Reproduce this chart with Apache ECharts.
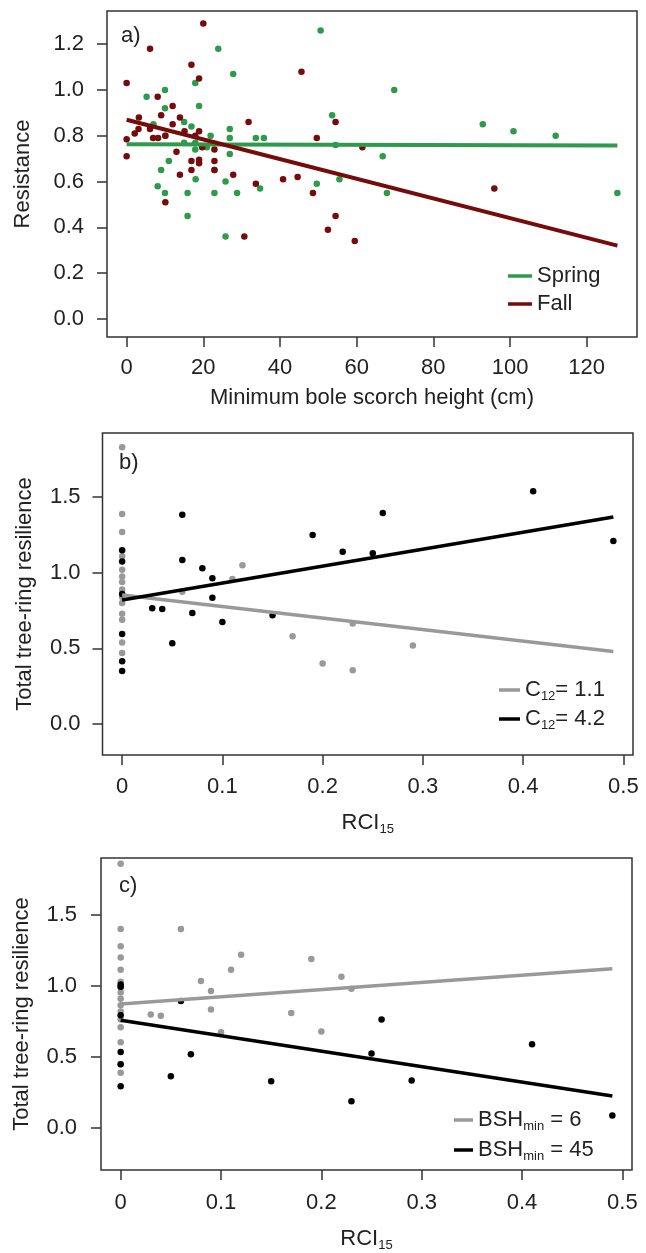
<!DOCTYPE html>
<html>
<head>
<meta charset="utf-8">
<title>Resistance and resilience</title>
<script src="https://cdn.jsdelivr.net/npm/echarts@6/dist/echarts.min.js"></script>
<style>
	html, body { margin: 0; padding: 0; background: #fff; }
	#chart { width: 646px; height: 1253px; }
</style>
</head>
<body>
<div id="chart"></div>
<script>
// ---- a) resistance vs minimum bole scorch height ----
var springX = [50.6, 23.9, 27.8, 10, 17.9, 5.2, 10, 18.9, 53.6, 7, 15, 16.9, 26.9, 10.1, 21.9, 26.9, 33.7, 35.8, 15, 17.9, 20.9, 54.5, 17.9, 26.9, 11, 9, 22.9, 18, 25.8, 8.1, 10, 15.9, 22.9, 28.8, 34.8, 49.6, 55.5, 15.9, 25.8, 69.8, 92.9, 100.9, 111.9, 66.8, 67.9, 128];
var springY = [1.26, 1.18, 1.07, 1.0, 1.03, 0.97, 0.92, 0.93, 0.89, 0.85, 0.86, 0.84, 0.83, 0.8, 0.8, 0.79, 0.79, 0.79, 0.77, 0.77, 0.75, 0.76, 0.74, 0.72, 0.69, 0.65, 0.65, 0.61, 0.6, 0.58, 0.55, 0.55, 0.55, 0.55, 0.57, 0.59, 0.61, 0.45, 0.36, 1.0, 0.85, 0.82, 0.8, 0.71, 0.55, 0.55];
var fallX = [20, 6.1, 16.9, 18.9, 0, 45.6, 8.1, 12, 9, 3.2, 13.9, 12, 31.8, 54.5, 6.1, 3.1, 2.1, 6.9, 8.2, 0, 10.1, 15.1, 18.9, 17.9, 49.6, 19.7, 22.9, 13, 0, 16.9, 18.9, 18.9, 22.9, 22.9, 13.9, 16.9, 27.8, 40.8, 44.6, 33.7, 48.6, 10.1, 54.5, 52.5, 30.7, 59.5, 61.5, 95.9];
var fallY = [1.29, 1.18, 1.11, 1.05, 1.03, 1.08, 0.97, 0.93, 0.89, 0.88, 0.88, 0.85, 0.86, 0.86, 0.83, 0.83, 0.81, 0.79, 0.79, 0.785, 0.8, 0.82, 0.82, 0.8, 0.79, 0.75, 0.74, 0.73, 0.71, 0.69, 0.695, 0.68, 0.69, 0.65, 0.63, 0.65, 0.63, 0.61, 0.62, 0.59, 0.55, 0.51, 0.45, 0.39, 0.36, 0.34, 0.75, 0.57];
var fitXa = [0, 128];
var springFit = [0.763, 0.757];
var fallFit = [0.87, 0.32];
var ticksXa = [0, 20, 40, 60, 80, 100, 120];
var ticksYa = [0, 0.2, 0.4, 0.6, 0.8, 1.0, 1.2];

// ---- b) resilience vs RCI15 by C12 ----
var c11X = [0, 0, 0, 0, 0, 0, 0, 0, 0, 0, 0, 0, 0, 0, 0.06, 0.11, 0.12, 0.17, 0.2, 0.23, 0.23, 0.29];
var c11Y = [1.83, 1.39, 1.27, 1.11, 1.02, 0.975, 0.94, 0.89, 0.84, 0.8, 0.73, 0.69, 0.54, 0.47, 0.875, 0.96, 1.05, 0.58, 0.4, 0.665, 0.355, 0.52];
var c42X = [0, 0, 0, 0, 0, 0, 0.06, 0.06, 0.08, 0.09, 0.09, 0.03, 0.04, 0.07, 0.1, 0.15, 0.05, 0.19, 0.22, 0.25, 0.26, 0.41, 0.49];
var c42Y = [1.15, 1.075, 0.86, 0.595, 0.415, 0.35, 1.385, 1.085, 1.03, 0.965, 0.835, 0.765, 0.76, 0.735, 0.675, 0.72, 0.535, 1.25, 1.14, 1.13, 1.395, 1.54, 1.21];
var fitXbc = [0, 0.49];
var c11Fit = [0.853, 0.48];
var c42Fit = [0.82, 1.37];

// ---- c) resilience vs RCI15 by BSHmin ----
var bsh6X = [0, 0, 0, 0, 0, 0, 0, 0, 0, 0, 0, 0, 0, 0, 0, 0, 0.06, 0.12, 0.11, 0.08, 0.09, 0.09, 0.03, 0.04, 0.1, 0.17, 0.19, 0.22, 0.23, 0.2];
var bsh6Y = [1.86, 1.4, 1.28, 1.2, 1.115, 1.03, 0.99, 0.955, 0.91, 0.865, 0.82, 0.765, 0.71, 0.605, 0.45, 0.39, 1.4, 1.22, 1.115, 1.035, 0.965, 0.835, 0.8, 0.79, 0.675, 0.81, 1.19, 1.065, 0.98, 0.68];
var bsh45X = [0, 0, 0, 0, 0, 0, 0.06, 0.07, 0.05, 0.15, 0.26, 0.25, 0.29, 0.23, 0.41, 0.49];
var bsh45Y = [1.01, 0.995, 0.795, 0.535, 0.45, 0.295, 0.895, 0.52, 0.365, 0.33, 0.765, 0.525, 0.335, 0.19, 0.59, 0.09];
var bsh6Fit = [0.874, 1.122];
var bsh45Fit = [0.759, 0.226];
var ticksXbc = [0, 0.1, 0.2, 0.3, 0.4, 0.5];
var ticksYbc = [0, 0.5, 1.0, 1.5];

var FONT = 'Liberation Sans, Arial, sans-serif';
var INK = '#222';
var GREEN = '#2f9a4b';
var DARKRED = '#750b0b';
var GRAY = '#999999';
var BLACK = '#000';

function pairs(xs, ys) {
	return xs.map(function(x, i) {
		return [x, ys[i]];
	});
}

var subRich = {
	n: { fontSize: 22, fontFamily: FONT, color: INK, lineHeight: 26 },
	s: { fontSize: 13, fontFamily: FONT, color: INK, lineHeight: 13, verticalAlign: 'bottom' }
};

function xAxisFor(idx, min, max, ticks, name, gap, margin) {
	return {
		type: 'value', gridIndex: idx, min: min, max: max,
		name: name, nameLocation: 'middle', nameGap: gap,
		nameTextStyle: { fontSize: 22, fontFamily: FONT, color: INK, rich: subRich },
		axisLine: { show: false, onZero: false },
		axisTick: { show: true, length: 10, customValues: ticks, lineStyle: { color: '#333', width: 1.5 } },
		axisLabel: {
			customValues: ticks, margin: margin, fontSize: 22, fontFamily: FONT, color: INK,
			formatter: function(v) { return String(Math.round(v * 100) / 100); }
		},
		splitLine: { show: false }
	};
}

function yAxisFor(idx, min, max, ticks, name, gap, margin) {
	return {
		type: 'value', gridIndex: idx, min: min, max: max,
		name: name, nameLocation: 'middle', nameGap: gap,
		nameTextStyle: { fontSize: 22, fontFamily: FONT, color: INK },
		axisLine: { show: false, onZero: false },
		axisTick: { show: true, length: 10, customValues: ticks, lineStyle: { color: '#333', width: 1.5 } },
		axisLabel: {
			customValues: ticks, margin: margin, fontSize: 22, fontFamily: FONT, color: INK,
			formatter: function(v) { return v.toFixed(1); }
		},
		splitLine: { show: false }
	};
}

function points(name, idx, xs, ys, color) {
	return {
		name: name, type: 'scatter', xAxisIndex: idx, yAxisIndex: idx,
		data: pairs(xs, ys), symbol: 'circle', symbolSize: 6.5,
		itemStyle: { color: color, opacity: 1 }, silent: true, z: 2
	};
}

function fitLine(name, idx, xs, ys, color, width) {
	return {
		name: name, type: 'line', xAxisIndex: idx, yAxisIndex: idx,
		data: pairs(xs, ys), showSymbol: false, color: color,
		itemStyle: { color: color },
		lineStyle: { color: color, width: width }, silent: true, z: 3
	};
}

function legendFor(names, left, top, width, gap) {
	return {
		data: names, orient: 'vertical', left: left, top: top, padding: 0,
		icon: 'rect', itemWidth: width, itemHeight: 3.5, itemGap: gap,
		selectedMode: false,
		textStyle: { fontSize: 22, fontFamily: FONT, color: INK, lineHeight: 26, rich: subRich },
		formatter: function(name) { return legendText[name] || name; }
	};
}

var legendText = {
	'C12 = 1.1': '{n|C}{s|12}{n|= 1.1}',
	'C12 = 4.2': '{n|C}{s|12}{n|= 4.2}',
	'BSHmin = 6': '{n|BSH}{s|min}{n| = 6}',
	'BSHmin = 45': '{n|BSH}{s|min}{n| = 45}'
};

var boxStyle = { show: true, borderColor: '#333', borderWidth: 1.5, backgroundColor: 'transparent' };

var chart = echarts.init(document.getElementById('chart'), null, { renderer: 'canvas' });

chart.setOption({
	animation: false,
	backgroundColor: '#fff',
	title: [
		{ text: 'a)', left: 121, top: 25, padding: 0, textStyle: { fontSize: 22, fontWeight: 'normal', fontFamily: FONT, color: INK } },
		{ text: 'b)', left: 119, top: 452, padding: 0, textStyle: { fontSize: 22, fontWeight: 'normal', fontFamily: FONT, color: INK } },
		{ text: 'c)', left: 119, top: 875, padding: 0, textStyle: { fontSize: 22, fontWeight: 'normal', fontFamily: FONT, color: INK } }
	],
	grid: [
		Object.assign({ left: 107, top: 11, width: 530, height: 326 }, boxStyle),
		Object.assign({ left: 102.5, top: 433, width: 530.5, height: 322 }, boxStyle),
		Object.assign({ left: 101, top: 858, width: 531, height: 316 }, boxStyle)
	],
	xAxis: [
		xAxisFor(0, -5.12, 133.12, ticksXa, 'Minimum bole scorch height (cm)', 50, 20),
		xAxisFor(1, -0.0196, 0.5096, ticksXbc, '{n|RCI}{s|15}', 55, 21),
		xAxisFor(2, -0.0196, 0.5096, ticksXbc, '{n|RCI}{s|15}', 56, 22)
	],
	yAxis: [
		yAxisFor(0, -0.079, 1.345, ticksYa, 'Resistance', 73, 23),
		yAxisFor(1, -0.205, 1.925, ticksYbc, 'Total tree-ring resilience', 67, 22),
		yAxisFor(2, -0.294, 1.90, ticksYbc, 'Total tree-ring resilience', 68, 24)
	],
	legend: [
		legendFor(['Spring', 'Fall'], 508, 263, 24, 2),
		legendFor(['C12 = 1.1', 'C12 = 4.2'], 499, 677, 21, 3),
		legendFor(['BSHmin = 6', 'BSHmin = 45'], 454, 1107, 19, 4)
	],
	series: [
		points('spring pts', 0, springX, springY, GREEN),
		points('fall pts', 0, fallX, fallY, DARKRED),
		fitLine('Spring', 0, fitXa, springFit, GREEN, 4),
		fitLine('Fall', 0, fitXa, fallFit, DARKRED, 4),

		points('c11 pts', 1, c11X, c11Y, GRAY),
		points('c42 pts', 1, c42X, c42Y, BLACK),
		fitLine('C12 = 1.1', 1, fitXbc, c11Fit, GRAY, 3.5),
		fitLine('C12 = 4.2', 1, fitXbc, c42Fit, BLACK, 3.5),

		points('bsh6 pts', 2, bsh6X, bsh6Y, GRAY),
		points('bsh45 pts', 2, bsh45X, bsh45Y, BLACK),
		fitLine('BSHmin = 6', 2, fitXbc, bsh6Fit, GRAY, 3.5),
		fitLine('BSHmin = 45', 2, fitXbc, bsh45Fit, BLACK, 3.5)
	]
});
</script>
</body>
</html>
